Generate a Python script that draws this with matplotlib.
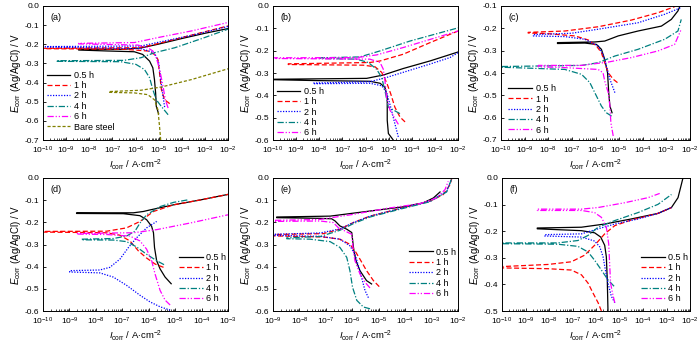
import matplotlib
matplotlib.use("Agg")
import matplotlib.pyplot as plt
import numpy as np

plt.rcParams['font.family'] = ['Liberation Sans', 'DejaVu Sans']
plt.rcParams['mathtext.fontset'] = 'custom'
plt.rcParams['mathtext.rm'] = 'Liberation Sans'
plt.rcParams['mathtext.it'] = 'Liberation Sans:italic'
plt.rcParams['mathtext.default'] = 'regular'

labels = ['0.5 h', '1 h', '2 h', '4 h', '6 h']
label_bare = 'Bare steel'

# log10(I) and E values, each curve traced from cathodic end -> Ecorr tip -> anodic end
a_logi = [
    [-5.0, -5.1, -5.13, -5.18, -5.25, -5.39, -5.69, -6.05, -7.22, -8.46, -8.46, -6.5, -5.76, -5.03, -4.0, -2.98, -2.0],
    [-4.52, -4.74, -4.88, -4.96, -5.03, -5.18, -5.47, -6.5, -10.0, -10.0, -5.9, -5.32, -4.0, -2.0],
    [-4.74, -4.81, -4.91, -5.0, -5.18, -5.76, -9.9, -9.9, -5.76, -5.03, -3.57, -2.0],
    [-4.59, -4.88, -5.1, -5.25, -5.39, -5.61, -5.98, -6.64, -9.42, -9.42, -6.5, -5.76, -5.18, -4.3, -3.13, -2.0],
    [-4.59, -4.71, -4.81, -4.96, -5.1, -5.25, -5.47, -5.9, -8.46, -8.46, -6.05, -5.03, -3.57, -2.0],
    [-4.91, -4.96, -5.03, -5.18, -5.47, -6.05, -7.15, -7.15, -5.76, -4.88, -3.57, -2.0],
]
a_E = [
    [-0.563, -0.525, -0.454, -0.384, -0.323, -0.288, -0.253, -0.239, -0.235, -0.230, -0.226, -0.226, -0.219, -0.200, -0.170, -0.142, -0.118],
    [-0.510, -0.490, -0.437, -0.350, -0.279, -0.253, -0.235, -0.226, -0.223, -0.221, -0.218, -0.205, -0.165, -0.104],
    [-0.528, -0.472, -0.384, -0.296, -0.244, -0.223, -0.214, -0.212, -0.209, -0.190, -0.153, -0.107],
    [-0.568, -0.525, -0.490, -0.437, -0.375, -0.332, -0.305, -0.291, -0.289, -0.286, -0.284, -0.270, -0.244, -0.218, -0.170, -0.121],
    [-0.533, -0.490, -0.419, -0.330, -0.270, -0.235, -0.218, -0.204, -0.198, -0.195, -0.191, -0.165, -0.130, -0.086],
    [-0.700, -0.630, -0.542, -0.490, -0.463, -0.454, -0.451, -0.447, -0.440, -0.423, -0.384, -0.328],
]

b_logi = [
    [-4.8, -5.01, -5.06, -5.06, -5.16, -5.37, -5.81, -8.11, -10.0, -10.0, -5.95, -5.23, -4.37, -3.21, -2.0],
    [-4.29, -4.51, -4.73, -4.91, -5.09, -5.3, -5.59, -6.1, -9.34, -9.34, -5.81, -5.37, -4.37, -3.21, -2.0],
    [-4.58, -4.73, -4.91, -5.09, -5.3, -5.81, -8.26, -8.26, -5.81, -5.09, -4.37, -3.21, -2.35, -2.0],
    [-4.51, -5.01, -5.16, -5.3, -5.52, -5.88, -6.38, -7.97, -7.97, -6.24, -5.37, -4.08, -2.0],
    [-4.58, -4.94, -5.09, -5.16, -5.23, -5.37, -5.81, -10.0, -10.0, -6.38, -5.52, -4.37, -2.0],
]
b_E = [
    [-0.600, -0.571, -0.512, -0.408, -0.364, -0.346, -0.337, -0.334, -0.330, -0.328, -0.324, -0.309, -0.280, -0.246, -0.206],
    [-0.519, -0.497, -0.453, -0.393, -0.342, -0.297, -0.272, -0.265, -0.262, -0.259, -0.253, -0.246, -0.216, -0.164, -0.112],
    [-0.586, -0.527, -0.453, -0.386, -0.357, -0.346, -0.348, -0.345, -0.339, -0.320, -0.297, -0.260, -0.231, -0.209],
    [-0.482, -0.453, -0.379, -0.320, -0.283, -0.253, -0.238, -0.235, -0.232, -0.228, -0.201, -0.157, -0.098],
    [-0.530, -0.467, -0.408, -0.334, -0.283, -0.253, -0.238, -0.235, -0.232, -0.231, -0.219, -0.186, -0.112],
]

c_logi = [
    [-5.3, -5.39, -5.44, -5.49, -5.61, -5.75, -5.96, -6.45, -7.61, -7.61, -6.03, -5.61, -5.04, -4.2, -3.21, -2.79, -2.51, -2.41],
    [-5.07, -5.25, -5.46, -5.61, -5.75, -5.96, -6.31, -6.87, -8.0, -8.85, -8.85, -7.3, -5.89, -4.48, -3.35, -2.65],
    [-5.18, -5.39, -5.54, -5.68, -5.89, -6.45, -7.3, -8.63, -8.63, -7.01, -5.89, -4.2, -3.07, -2.37],
    [-5.32, -5.54, -5.75, -5.96, -6.24, -6.59, -7.3, -10.0, -10.0, -6.59, -5.89, -5.18, -4.2, -3.07, -2.51, -2.37],
    [-5.25, -5.35, -5.39, -5.46, -5.61, -5.68, -5.89, -7.3, -8.42, -8.42, -6.59, -5.46, -4.48, -3.35, -2.65, -2.37],
]
c_E = [
    [-0.578, -0.548, -0.488, -0.399, -0.339, -0.294, -0.272, -0.266, -0.268, -0.264, -0.261, -0.257, -0.234, -0.212, -0.190, -0.160, -0.122, -0.097],
    [-0.443, -0.428, -0.399, -0.354, -0.309, -0.279, -0.252, -0.234, -0.224, -0.221, -0.218, -0.212, -0.193, -0.163, -0.130, -0.103],
    [-0.488, -0.428, -0.369, -0.316, -0.279, -0.249, -0.237, -0.234, -0.228, -0.222, -0.204, -0.175, -0.137, -0.107],
    [-0.593, -0.578, -0.548, -0.503, -0.443, -0.406, -0.384, -0.374, -0.371, -0.366, -0.354, -0.324, -0.294, -0.249, -0.212, -0.160],
    [-0.682, -0.622, -0.548, -0.488, -0.436, -0.399, -0.384, -0.376, -0.372, -0.366, -0.366, -0.351, -0.331, -0.301, -0.272, -0.204],
]

d_logi = [
    [-5.15, -5.38, -5.57, -5.7, -5.78, -5.82, -5.89, -6.08, -6.33, -6.96, -8.73, -8.73, -6.58, -6.2, -5.95, -5.06, -4.05, -3.0],
    [-5.44, -5.76, -6.08, -6.39, -6.71, -7.09, -7.59, -10.0, -10.0, -7.59, -6.84, -6.33, -5.82, -5.06, -4.05, -3.0],
    [-5.19, -5.57, -5.95, -6.33, -6.84, -7.34, -7.85, -8.99, -8.99, -7.85, -7.47, -7.09, -6.77, -6.46, -6.08, -5.7],
    [-5.42, -5.7, -6.08, -6.46, -6.84, -7.34, -8.54, -8.54, -7.34, -6.84, -6.52, -6.33, -6.08, -5.57, -5.06, -4.49],
    [-5.19, -5.38, -5.57, -5.76, -5.89, -6.08, -6.33, -6.71, -7.59, -8.73, -8.73, -6.58, -5.7, -4.43, -3.0],
]
d_E = [
    [-0.477, -0.447, -0.410, -0.373, -0.314, -0.247, -0.218, -0.188, -0.170, -0.161, -0.160, -0.157, -0.157, -0.151, -0.144, -0.121, -0.099, -0.074],
    [-0.403, -0.388, -0.361, -0.329, -0.284, -0.258, -0.247, -0.244, -0.241, -0.240, -0.225, -0.196, -0.151, -0.121, -0.099, -0.074],
    [-0.596, -0.581, -0.559, -0.529, -0.484, -0.447, -0.428, -0.424, -0.418, -0.415, -0.403, -0.366, -0.314, -0.270, -0.225, -0.196],
    [-0.391, -0.373, -0.344, -0.311, -0.287, -0.280, -0.279, -0.276, -0.273, -0.262, -0.240, -0.203, -0.166, -0.129, -0.110, -0.098],
    [-0.573, -0.551, -0.507, -0.433, -0.373, -0.321, -0.284, -0.262, -0.255, -0.253, -0.250, -0.247, -0.233, -0.203, -0.166],
]

e_logi = [
    [-5.27, -5.46, -5.71, -5.86, -5.94, -6.02, -6.21, -6.47, -6.65, -6.78, -7.22, -8.86, -8.86, -6.84, -5.33, -4.07, -3.31, -2.93, -2.68],
    [-4.98, -5.2, -5.46, -5.71, -5.9, -6.09, -6.47, -7.1, -9.0, -9.0, -7.1, -6.47, -5.96, -5.33, -4.07, -3.06, -2.56, -2.3, -2.24],
    [-5.39, -5.52, -5.65, -5.77, -5.9, -6.09, -6.47, -7.22, -9.0, -9.0, -7.22, -6.47, -5.96, -5.33, -4.07, -3.06, -2.43, -2.24],
    [-5.33, -5.58, -5.83, -5.99, -6.09, -6.21, -6.47, -6.84, -7.6, -8.48, -8.48, -7.22, -6.47, -5.96, -5.33, -4.07, -3.06, -2.43, -2.24],
    [-5.33, -5.52, -5.71, -5.9, -5.96, -6.02, -6.28, -6.53, -6.72, -7.22, -9.0, -9.0, -7.22, -5.96, -4.7, -3.44, -2.81, -2.49, -2.37],
]
e_E = [
    [-0.478, -0.463, -0.418, -0.373, -0.328, -0.246, -0.231, -0.216, -0.194, -0.184, -0.182, -0.179, -0.176, -0.172, -0.149, -0.130, -0.112, -0.090, -0.063],
    [-0.490, -0.463, -0.418, -0.366, -0.328, -0.299, -0.276, -0.266, -0.261, -0.255, -0.251, -0.231, -0.201, -0.172, -0.134, -0.104, -0.075, -0.030, -0.003],
    [-0.540, -0.507, -0.448, -0.396, -0.343, -0.306, -0.276, -0.263, -0.259, -0.254, -0.248, -0.230, -0.201, -0.172, -0.134, -0.104, -0.060, -0.003],
    [-0.590, -0.582, -0.552, -0.493, -0.418, -0.358, -0.313, -0.287, -0.276, -0.274, -0.270, -0.264, -0.236, -0.206, -0.176, -0.137, -0.107, -0.063, -0.003],
    [-0.496, -0.470, -0.433, -0.373, -0.328, -0.254, -0.239, -0.224, -0.201, -0.194, -0.196, -0.191, -0.187, -0.164, -0.137, -0.116, -0.090, -0.052, -0.015],
]

f_logi = [
    [-5.49, -5.52, -5.56, -5.63, -5.8, -6.06, -6.62, -8.5, -8.5, -6.62, -5.63, -4.5, -3.36, -2.79, -2.51, -2.37, -2.3],
    [-5.77, -5.91, -6.13, -6.34, -6.62, -7.05, -8.04, -10.0, -10.0, -8.04, -7.05, -6.48, -6.06, -5.63, -5.2, -4.5, -3.36, -2.79],
    [-5.2, -5.35, -5.49, -5.6, -5.7, -5.84, -6.06, -6.62, -8.18, -8.18, -6.62, -5.91, -5.2, -4.21, -3.36, -2.79],
    [-5.23, -5.49, -5.77, -6.06, -6.34, -6.77, -7.62, -10.0, -10.0, -7.62, -6.77, -6.34, -5.91, -5.2, -4.21, -3.36, -2.79],
    [-5.2, -5.3, -5.38, -5.42, -5.46, -5.56, -5.77, -6.06, -6.62, -8.5, -8.5, -6.62, -5.91, -4.78, -3.79, -3.29],
]
f_E = [
    [-0.500, -0.383, -0.296, -0.253, -0.222, -0.206, -0.198, -0.191, -0.188, -0.185, -0.173, -0.154, -0.133, -0.111, -0.074, -0.025, 0.000],
    [-0.500, -0.469, -0.432, -0.395, -0.364, -0.346, -0.341, -0.338, -0.333, -0.325, -0.315, -0.290, -0.253, -0.210, -0.179, -0.158, -0.133, -0.111],
    [-0.469, -0.444, -0.395, -0.346, -0.296, -0.259, -0.237, -0.222, -0.218, -0.213, -0.210, -0.191, -0.173, -0.154, -0.133, -0.111],
    [-0.407, -0.383, -0.346, -0.309, -0.278, -0.257, -0.249, -0.247, -0.244, -0.244, -0.235, -0.216, -0.185, -0.160, -0.130, -0.099, -0.062],
    [-0.469, -0.432, -0.395, -0.321, -0.247, -0.185, -0.148, -0.130, -0.122, -0.122, -0.117, -0.117, -0.111, -0.093, -0.074, -0.058],
]

colors = ['#000000', '#ff0000', '#0000ff', '#008080', '#ff00ff', '#808000']
styles = ['-', (0, (4, 2)), (0, (1, 1.2)), (0, (5, 1.5, 1, 1.5)), (0, (5, 1.5, 1, 1.5, 1, 1.5)), (0, (2.5, 1.5))]

fig = plt.figure(figsize=(7.0, 3.44), dpi=100)

panels = [
    ('(a)', a_logi, a_E, [43, 6, 228, 140], (-10, -2), (-0.7, 0.0), 'upper left', (0.01, 0.53)),
    ('(b)', b_logi, b_E, [273, 6, 458, 140], (-10, -2), (-0.6, 0.0), 'upper left', (0.01, 0.41)),
    ('(c)', c_logi, c_E, [501, 6, 690, 140], (-10, -2), (-0.7, -0.1), 'upper left', (0.03, 0.43)),
    ('(d)', d_logi, d_E, [43, 178, 228, 311], (-10, -3), (-0.6, 0.0), 'upper right', (1.0, 0.45)),
    ('(e)', e_logi, e_E, [273, 178, 458, 311], (-9, -2), (-0.6, 0.0), 'upper right', (1.0, 0.49)),
    ('(f)', f_logi, f_E, [502, 178, 690, 311], (-10, -2), (-0.5, 0.0), 'upper right', (1.0, 0.45)),
]

W, H = 700.0, 344.0
yfmt = matplotlib.ticker.FuncFormatter(lambda v, p: '%.1f' % (round(v, 1) + 0.0))
for tag, logi, E, box, xl, yl, lloc, lanchor in panels:
    x0, y0, x1, y1 = box
    ax = fig.add_axes([x0 / W, 1 - y1 / H, (x1 - x0) / W, (y1 - y0) / H])
    names = labels + ([label_bare] if len(logi) > 5 else [])
    for k in range(len(logi)):
        ax.plot(10.0 ** np.array(logi[k]), E[k], color=colors[k], linestyle=styles[k],
                lw=0.9, label=names[k])
    ax.set_xscale('log')
    ax.set_xlim(10.0 ** xl[0], 10.0 ** xl[1])
    ax.set_ylim(*yl)
    ax.set_xticks([10.0 ** p for p in range(xl[0], xl[1] + 1)])
    ax.xaxis.set_minor_locator(matplotlib.ticker.LogLocator(base=10, subs=np.arange(2, 10), numticks=20))
    ax.xaxis.set_minor_formatter(matplotlib.ticker.NullFormatter())
    ax.set_yticks(np.round(np.arange(yl[0], yl[1] + 0.001, 0.1), 1))
    ax.yaxis.set_major_formatter(yfmt)
    ax.tick_params(direction='in', length=2.5, width=0.6, labelsize=6, pad=2.5)
    ax.tick_params(axis='x', pad=3.5)
    ax.tick_params(which='minor', direction='in', length=1.3, width=0.5)
    for s in ax.spines.values():
        s.set_linewidth(0.7)
    ax.set_ylabel('$\\mathit{E}_{\\rm corr}$ (Ag/AgCl) / V', fontsize=7, labelpad=1.5)
    ax.set_xlabel('$\\mathit{I}_{\\rm corr}$ / A$\\cdot$cm$^{-2}$', fontsize=6.8, labelpad=0.5)
    ax.text(0.04, 0.95, tag, transform=ax.transAxes, fontsize=6.5, va='top', ha='left')
    ax.legend(loc=lloc, bbox_to_anchor=lanchor, frameon=False, fontsize=6.5,
              handlelength=2.6, handletextpad=0.4, labelspacing=0.15, borderaxespad=0, borderpad=0.2)

fig.savefig('out.png', dpi=100)
